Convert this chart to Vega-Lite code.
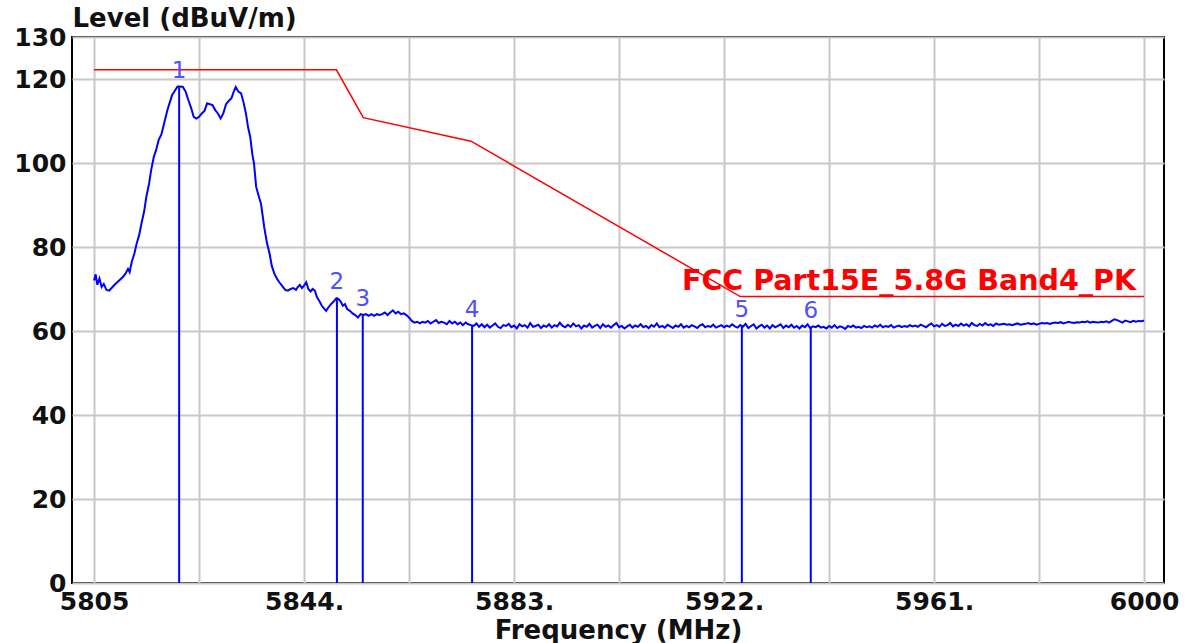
{
  "$schema": "https://vega.github.io/schema/vega-lite/v6.json",
  "width": 1092,
  "height": 546,
  "autosize": {"type": "none"},
  "padding": {"left": 72, "top": 37, "right": 30, "bottom": 60},
  "background": "white",
  "config": {
    "view": {"stroke": "#000000", "strokeWidth": 2},
    "font": "DejaVu Sans"
  },
  "datasets": {
    "trace": [
      {"f":5805.0,"v":72.0},{"f":5805.3,"v":73.5},{"f":5805.6,"v":71.0},{"f":5806.0,"v":72.5},{"f":5806.4,"v":70.5},{"f":5806.8,"v":71.2},{"f":5807.3,"v":69.8},{"f":5807.8,"v":69.6},{"f":5808.3,"v":70.3},{"f":5808.8,"v":71.0},{"f":5809.3,"v":71.6},{"f":5809.8,"v":72.2},{"f":5810.3,"v":72.8},{"f":5810.8,"v":73.6},{"f":5811.3,"v":74.8},{"f":5811.6,"v":74.0},{"f":5812.0,"v":76.5},{"f":5812.5,"v":78.5},{"f":5812.9,"v":80.8},{"f":5813.4,"v":83.0},{"f":5813.8,"v":85.6},{"f":5814.3,"v":88.5},{"f":5814.7,"v":91.9},{"f":5815.2,"v":95.0},{"f":5815.6,"v":98.3},{"f":5816.1,"v":101.5},{"f":5816.5,"v":103.0},{"f":5817.0,"v":105.5},{"f":5817.5,"v":106.8},{"f":5818.0,"v":109.4},{"f":5818.6,"v":112.5},{"f":5819.0,"v":114.2},{"f":5819.5,"v":116.2},{"f":5820.0,"v":117.2},{"f":5820.5,"v":118.2},{"f":5821.0,"v":118.2},{"f":5821.5,"v":118.1},{"f":5822.0,"v":117.0},{"f":5822.5,"v":115.0},{"f":5823.0,"v":113.2},{"f":5823.5,"v":111.0},{"f":5824.0,"v":110.6},{"f":5824.5,"v":111.0},{"f":5825.0,"v":111.8},{"f":5825.5,"v":112.4},{"f":5826.0,"v":114.2},{"f":5826.5,"v":114.0},{"f":5827.0,"v":113.8},{"f":5827.5,"v":112.6},{"f":5828.0,"v":111.8},{"f":5828.5,"v":110.6},{"f":5829.0,"v":111.8},{"f":5829.5,"v":114.0},{"f":5830.0,"v":114.8},{"f":5830.5,"v":115.4},{"f":5831.0,"v":117.2},{"f":5831.3,"v":118.1},{"f":5831.8,"v":117.0},{"f":5832.3,"v":116.6},{"f":5832.8,"v":114.2},{"f":5833.2,"v":111.8},{"f":5833.6,"v":108.5},{"f":5834.0,"v":106.2},{"f":5834.4,"v":102.0},{"f":5834.7,"v":99.9},{"f":5835.1,"v":94.3},{"f":5835.6,"v":92.0},{"f":5836.0,"v":90.3},{"f":5836.6,"v":84.7},{"f":5837.1,"v":81.0},{"f":5837.6,"v":78.4},{"f":5838.0,"v":75.5},{"f":5838.5,"v":73.6},{"f":5839.0,"v":72.4},{"f":5839.4,"v":71.6},{"f":5840.0,"v":70.6},{"f":5840.5,"v":69.8},{"f":5841.0,"v":69.6},{"f":5841.5,"v":70.0},{"f":5842.0,"v":70.2},{"f":5842.5,"v":69.8},{"f":5842.8,"v":70.4},{"f":5843.2,"v":71.0},{"f":5843.6,"v":70.2},{"f":5844.0,"v":70.8},{"f":5844.4,"v":71.6},{"f":5844.8,"v":70.0},{"f":5845.2,"v":69.4},{"f":5845.6,"v":70.0},{"f":5846.0,"v":69.6},{"f":5846.4,"v":68.0},{"f":5846.8,"v":67.2},{"f":5847.3,"v":66.0},{"f":5847.8,"v":65.2},{"f":5848.1,"v":64.8},{"f":5848.5,"v":65.6},{"f":5849.0,"v":66.4},{"f":5849.5,"v":67.0},{"f":5850.0,"v":67.8},{"f":5850.4,"v":67.6},{"f":5850.8,"v":67.0},{"f":5851.2,"v":66.0},{"f":5851.6,"v":66.4},{"f":5852.0,"v":65.2},{"f":5852.5,"v":64.8},{"f":5853.0,"v":64.2},{"f":5853.5,"v":63.8},{"f":5854.0,"v":63.2},{"f":5854.5,"v":64.0},{"f":5855.0,"v":63.8},{"f":5855.5,"v":64.0},{"f":5856.0,"v":63.6},{"f":5856.5,"v":64.0},{"f":5857.0,"v":63.6},{"f":5857.5,"v":64.0},{"f":5858.0,"v":63.8},{"f":5858.5,"v":64.0},{"f":5859.0,"v":64.4},{"f":5859.5,"v":63.8},{"f":5860.0,"v":64.4},{"f":5860.5,"v":64.9},{"f":5861.0,"v":64.2},{"f":5861.5,"v":64.6},{"f":5862.0,"v":64.0},{"f":5862.5,"v":64.2},{"f":5863.0,"v":63.8},{"f":5863.5,"v":63.2},{"f":5864.0,"v":62.4},{"f":5864.5,"v":62.0},{"f":5865.0,"v":62.2},{"f":5865.5,"v":61.8},{"f":5866.0,"v":62.2},{"f":5866.5,"v":62.0},{"f":5867.0,"v":62.4},{"f":5867.5,"v":61.8},{"f":5868.0,"v":62.2},{"f":5868.5,"v":62.6},{"f":5869.0,"v":61.9},{"f":5869.5,"v":62.2},{"f":5870.0,"v":62.0},{"f":5870.5,"v":61.6},{"f":5871.0,"v":62.4},{"f":5871.5,"v":61.8},{"f":5872.0,"v":62.2},{"f":5872.5,"v":61.6},{"f":5873.0,"v":62.0},{"f":5873.5,"v":61.4},{"f":5874.0,"v":62.0},{"f":5874.5,"v":61.6},{"f":5875.0,"v":61.4},{"f":5875.5,"v":61.2},{"f":5876.0,"v":61.8},{"f":5876.5,"v":61.0},{"f":5877.0,"v":61.6},{"f":5877.5,"v":60.9},
      {"f":5878.0,"v":61.5},{"f":5878.5,"v":60.8},{"f":5879.0,"v":61.3},{"f":5879.5,"v":61.8},{"f":5880.0,"v":61.0},{"f":5880.5,"v":60.7},{"f":5881.0,"v":61.4},{"f":5881.5,"v":61.2},{"f":5882.0,"v":61.7},{"f":5882.5,"v":60.9},{"f":5883.0,"v":61.3},{"f":5883.5,"v":60.6},{"f":5884.0,"v":61.6},{"f":5884.5,"v":61.1},{"f":5885.0,"v":61.4},{"f":5885.5,"v":60.8},{"f":5886.0,"v":61.9},{"f":5886.5,"v":61.0},{"f":5887.0,"v":61.2},{"f":5887.5,"v":61.5},{"f":5888.0,"v":60.7},{"f":5888.5,"v":61.3},{"f":5889.0,"v":61.0},{"f":5889.5,"v":61.6},{"f":5890.0,"v":60.8},{"f":5890.5,"v":61.4},{"f":5891.0,"v":61.1},{"f":5891.5,"v":62.0},{"f":5892.0,"v":61.2},{"f":5892.5,"v":60.9},{"f":5893.0,"v":61.5},{"f":5893.5,"v":61.0},{"f":5894.0,"v":61.8},{"f":5894.5,"v":61.1},{"f":5895.0,"v":61.4},{"f":5895.5,"v":60.6},{"f":5896.0,"v":61.3},{"f":5896.5,"v":61.0},{"f":5897.0,"v":61.7},{"f":5897.5,"v":60.8},{"f":5898.0,"v":61.2},{"f":5898.5,"v":61.5},{"f":5899.0,"v":60.7},{"f":5899.5,"v":61.6},{"f":5900.0,"v":61.0},{"f":5900.5,"v":61.3},{"f":5901.0,"v":60.8},{"f":5901.5,"v":61.4},{"f":5902.0,"v":61.9},{"f":5902.5,"v":60.9},{"f":5903.0,"v":61.2},{"f":5903.5,"v":60.6},{"f":5904.0,"v":61.1},{"f":5904.5,"v":61.5},{"f":5905.0,"v":60.8},{"f":5905.5,"v":61.3},{"f":5906.0,"v":61.0},{"f":5906.5,"v":61.6},{"f":5907.0,"v":60.9},{"f":5907.5,"v":61.2},{"f":5908.0,"v":60.7},{"f":5908.5,"v":61.4},{"f":5909.0,"v":61.0},{"f":5909.5,"v":61.8},{"f":5910.0,"v":60.9},{"f":5910.5,"v":61.2},{"f":5911.0,"v":60.8},{"f":5911.5,"v":61.5},{"f":5912.0,"v":61.1},{"f":5912.5,"v":60.7},{"f":5913.0,"v":61.3},{"f":5913.5,"v":61.0},{"f":5914.0,"v":61.6},{"f":5914.5,"v":60.8},{"f":5915.0,"v":61.2},{"f":5915.5,"v":60.9},{"f":5916.0,"v":61.4},{"f":5916.5,"v":61.1},{"f":5917.0,"v":60.7},{"f":5917.5,"v":61.3},{"f":5918.0,"v":61.6},{"f":5918.5,"v":60.9},{"f":5919.0,"v":61.2},{"f":5919.5,"v":61.0},{"f":5920.0,"v":61.5},{"f":5920.5,"v":60.8},{"f":5921.0,"v":61.1},{"f":5921.5,"v":61.4},{"f":5922.0,"v":60.9},{"f":5922.5,"v":61.3},{"f":5923.0,"v":61.0},{"f":5923.5,"v":61.6},{"f":5924.0,"v":61.1},{"f":5924.5,"v":60.8},{"f":5925.0,"v":61.4},{"f":5925.5,"v":61.0},{"f":5926.0,"v":61.7},{"f":5926.5,"v":60.7},{"f":5927.0,"v":61.2},{"f":5927.5,"v":61.6},{"f":5928.0,"v":60.6},{"f":5928.5,"v":61.1},{"f":5929.0,"v":61.5},{"f":5929.5,"v":60.8},{"f":5930.0,"v":61.3},{"f":5930.5,"v":60.6},{"f":5931.0,"v":61.4},{"f":5931.5,"v":60.9},{"f":5932.0,"v":61.2},{"f":5932.5,"v":61.6},{"f":5933.0,"v":60.7},{"f":5933.5,"v":61.3},{"f":5934.0,"v":60.9},{"f":5934.5,"v":61.5},{"f":5935.0,"v":60.8},{"f":5935.5,"v":61.2},{"f":5936.0,"v":60.6},{"f":5936.5,"v":61.3},{"f":5937.0,"v":60.9},{"f":5937.5,"v":61.6},{"f":5938.0,"v":60.7},{"f":5938.5,"v":61.1},{"f":5939.0,"v":60.9},{"f":5939.5,"v":61.3},{"f":5940.0,"v":60.8},{"f":5940.5,"v":61.0},{"f":5941.0,"v":60.6},{"f":5941.5,"v":61.2},{"f":5942.0,"v":60.8},{"f":5942.5,"v":61.4},{"f":5943.0,"v":60.7},{"f":5943.5,"v":61.1},{"f":5944.0,"v":60.9},{"f":5944.5,"v":60.5},{"f":5945.0,"v":61.2},{"f":5945.5,"v":60.9},{"f":5946.0,"v":61.3},{"f":5946.5,"v":60.8},{"f":5947.0,"v":61.0},{"f":5947.5,"v":60.7},{"f":5948.0,"v":61.2},{"f":5948.5,"v":60.9},{"f":5949.0,"v":61.1},{"f":5949.5,"v":60.8},{"f":5950.0,"v":61.3},{"f":5950.5,"v":61.0},{"f":5951.0,"v":61.5},{"f":5951.5,"v":60.9},{"f":5952.0,"v":61.2},{"f":5952.5,"v":61.0},{"f":5953.0,"v":61.4},{"f":5953.5,"v":60.8},{"f":5954.0,"v":61.1},{"f":5954.5,"v":61.3},{"f":5955.0,"v":60.9},{"f":5955.5,"v":61.2},{"f":5956.0,"v":61.0},{"f":5956.5,"v":61.4},{"f":5957.0,"v":61.1},{"f":5957.5,"v":61.3},{"f":5958.0,"v":61.0},{"f":5958.5,"v":61.5},{"f":5959.0,"v":61.2},{"f":5959.5,"v":60.9},{"f":5960.0,"v":61.4},{"f":5960.5,"v":61.8},{"f":5961.0,"v":61.1},{"f":5961.5,"v":61.4},{"f":5962.0,"v":61.0},{"f":5962.5,"v":61.7},{"f":5963.0,"v":61.2},{"f":5963.5,"v":61.4},{"f":5964.0,"v":61.9},{"f":5964.5,"v":61.1},{"f":5965.0,"v":61.5},{"f":5965.5,"v":61.2},{"f":5966.0,"v":61.8},{"f":5966.5,"v":61.3},{"f":5967.0,"v":61.6},{"f":5967.5,"v":61.1},{"f":5968.0,"v":61.9},{"f":5968.5,"v":61.4},{"f":5969.0,"v":61.2},{"f":5969.5,"v":61.7},{"f":5970.0,"v":61.3},{"f":5970.5,"v":61.9},{"f":5971.0,"v":61.4},{"f":5971.5,"v":61.6},{"f":5972.0,"v":61.2},{"f":5972.5,"v":61.8},{"f":5973.0,"v":61.5},{"f":5973.5,"v":61.6},{"f":5974.0,"v":61.7},{"f":5974.5,"v":61.5},{"f":5975.0,"v":61.6},{"f":5975.5,"v":61.4},{"f":5976.0,"v":61.6},{"f":5976.5,"v":61.8},{"f":5977.0,"v":61.5},{"f":5977.5,"v":61.6},{"f":5978.0,"v":61.7},{"f":5978.5,"v":61.9},{"f":5979.0,"v":61.6},{"f":5979.5,"v":61.8},{"f":5980.0,"v":61.5},{"f":5980.5,"v":61.7},{"f":5981.0,"v":61.9},{"f":5981.5,"v":61.8},{"f":5982.0,"v":61.9},{"f":5982.5,"v":61.7},{"f":5983.0,"v":61.9},{"f":5983.5,"v":62.0},{"f":5984.0,"v":61.9},{"f":5984.5,"v":62.1},{"f":5985.0,"v":61.8},{"f":5985.5,"v":62.0},{"f":5986.0,"v":62.2},{"f":5986.5,"v":62.0},{"f":5987.0,"v":61.9},{"f":5987.5,"v":62.1},{"f":5988.0,"v":62.0},{"f":5988.5,"v":62.2},{"f":5989.0,"v":62.1},{"f":5989.5,"v":62.3},{"f":5990.0,"v":62.0},{"f":5990.5,"v":62.2},{"f":5991.0,"v":62.1},{"f":5991.5,"v":62.0},{"f":5992.0,"v":62.2},{"f":5992.5,"v":62.1},{"f":5993.0,"v":62.3},{"f":5993.5,"v":62.0},{"f":5994.0,"v":62.4},{"f":5994.5,"v":62.8},{"f":5995.0,"v":62.6},{"f":5995.5,"v":62.3},{"f":5996.0,"v":62.0},{"f":5996.5,"v":62.5},{"f":5997.0,"v":62.3},{"f":5997.5,"v":62.1},{"f":5998.0,"v":62.4},{"f":5998.5,"v":62.2},{"f":5999.0,"v":62.4},{"f":5999.5,"v":62.3},{"f":6000.0,"v":62.5}
    ],
    "limit": [
      {"f":5805,"v":122.2},{"f":5850,"v":122.2},{"f":5855,"v":110.8},{"f":5875,"v":105.2},{"f":5925,"v":68.2},{"f":6000,"v":68.2}
    ],
    "markers": [
      {"f":5820.8,"v":118.2,"label":"1"},
      {"f":5850.1,"v":67.9,"label":"2"},
      {"f":5854.9,"v":63.7,"label":"3"},
      {"f":5875.2,"v":61.3,"label":"4"},
      {"f":5925.3,"v":61.2,"label":"5"},
      {"f":5938.1,"v":61.0,"label":"6"}
    ],
    "limitlabel": [
      {"f":6000,"v":68.2,"name":"FCC Part15E_5.8G Band4_PK"}
    ]
  },
  "layer": [
    {
      "data": {"name": "trace"},
      "mark": {"type": "line", "color": "#0000ff", "strokeWidth": 2, "clip": true},
      "encoding": {
        "x": {
          "field": "f", "type": "quantitative",
          "scale": {"domain": [5800.9, 6003.7], "nice": false, "zero": false},
          "axis": {
            "values": [5805, 5824.5, 5844, 5863.5, 5883, 5902.5, 5922, 5941.5, 5961, 5980.5, 6000],
            "labelExpr": "(datum.value - 5805) % 39 == 0 ? ((datum.value == 5805 || datum.value == 6000) ? format(datum.value, 'd') : format(datum.value, 'd') + '.') : ''",
            "grid": true, "gridColor": "#c8c8c8", "gridWidth": 2,
            "ticks": false, "domain": false,
            "labelFont": "DejaVu Sans", "labelFontWeight": "bold", "labelFontSize": 25, "labelColor": "#111111",
            "labelPadding": 6, "labelOverlap": false, "labelFlush": false,
            "title": "Frequency (MHz)", "titleFont": "DejaVu Sans", "titleFontWeight": "bold", "titleFontSize": 26, "titleColor": "#111111",
            "titleY": 47, "titleBaseline": "middle"
          }
        },
        "y": {
          "field": "v", "type": "quantitative",
          "scale": {"domain": [0, 130], "nice": false, "zero": true},
          "axis": {
            "values": [0, 20, 40, 60, 80, 100, 120, 130],
            "grid": true, "gridColor": "#c8c8c8", "gridWidth": 2,
            "ticks": false, "domain": false,
            "labelFont": "DejaVu Sans", "labelFontWeight": "bold", "labelFontSize": 25, "labelColor": "#111111",
            "labelPadding": 6, "labelOverlap": false, "labelFlush": false,
            "title": "Level (dBuV/m)", "titleFont": "DejaVu Sans", "titleFontWeight": "bold", "titleFontSize": 26, "titleColor": "#111111",
            "titleAngle": 0, "titleX": 0, "titleY": -19, "titleAlign": "left", "titleBaseline": "middle"
          }
        }
      }
    },
    {
      "data": {"name": "limit"},
      "mark": {"type": "line", "color": "#ff0000", "strokeWidth": 1.5},
      "encoding": {
        "x": {"field": "f", "type": "quantitative"},
        "y": {"field": "v", "type": "quantitative"}
      }
    },
    {
      "data": {"name": "markers"},
      "mark": {"type": "rule", "color": "#0000ff", "strokeWidth": 2},
      "encoding": {
        "x": {"field": "f", "type": "quantitative"},
        "y": {"field": "v", "type": "quantitative"},
        "y2": {"datum": 0}
      }
    },
    {
      "data": {"name": "markers"},
      "mark": {"type": "text", "color": "#5050ff", "font": "DejaVu Sans", "fontSize": 23, "baseline": "bottom", "align": "center", "dy": -4},
      "encoding": {
        "x": {"field": "f", "type": "quantitative"},
        "y": {"field": "v", "type": "quantitative"},
        "text": {"field": "label"}
      }
    },
    {
      "data": {"name": "limitlabel"},
      "mark": {"type": "text", "color": "#ff0000", "font": "DejaVu Sans", "fontWeight": "bold", "fontSize": 28.5, "baseline": "bottom", "align": "right", "dx": -8, "dy": -1},
      "encoding": {
        "x": {"field": "f", "type": "quantitative"},
        "y": {"field": "v", "type": "quantitative"},
        "text": {"field": "name"}
      }
    }
  ]
}
